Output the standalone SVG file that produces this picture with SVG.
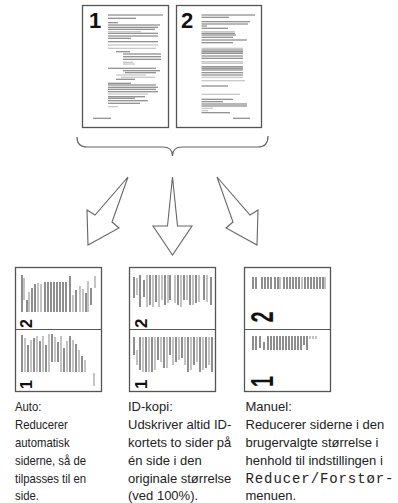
<svg xmlns="http://www.w3.org/2000/svg" width="398" height="503" viewBox="0 0 398 503">
<style>
.pg{fill:#fff;stroke:#555;stroke-width:1.3}
.dk{stroke:#707070;stroke-width:1.1;fill:none}
.lt{stroke:#b8b8b8;stroke-width:1.1;fill:none}
.bd{stroke:#6a6a6a;stroke-width:1.5;fill:none}
.bl{stroke:#b0b0b0;stroke-width:1.5;fill:none}
.num{font-family:"Liberation Sans",Arial,sans-serif;font-weight:bold;fill:#111}
.arr{fill:#fff;stroke:#666;stroke-width:1.1;stroke-linejoin:miter}
.txt{font-family:"Liberation Sans",Arial,sans-serif;font-size:13px;fill:#222}
.mono{font-family:"Liberation Mono","Courier New",monospace;font-size:14px;fill:#222}
</style>

<g id="page1">
<rect class="pg" x="82.5" y="5.5" width="86" height="122"/>
<text class="num" x="89" y="28" font-size="22">1</text>
<path class="dk" d="M108 15H163M108 18.3H136M108 22.7H118M108 25H160M108 27.3H158M108 29.3H155M108 33.3H158M108 36H158M108 38.3H131M108 41.7H158M116 51.7H130M123 54H161M123 56.7H161M123 59.3H161M108 68.3H156M123 70.7H160M125 72.7H156M116 79.3H135M108 83.3H131M108 85H156M108 87.3H158M108 89.3H156M108 91.7H158M108 96.7H145M108 98.3H135M108 100.7H148M108 103.3H140M93 118.3H111"/>
<path class="lt" d="M108 31.7H141M108 45H158M108 48.3H156M123 62.3H133M123 64H135M116 75H146M121 77.3H155M108 94H148M108 106.7H118"/>
</g>

<g id="page2">
<rect class="pg" x="176.5" y="5.5" width="85" height="122"/>
<text class="num" x="181" y="28" font-size="22">2</text>
<path class="dk" d="M201.5 15H255M201.5 17.3H229M201.5 21.7H250M201.5 24H248M201.5 26H207M201.5 28.3H228M201.5 33.3H235M201.5 35H236M201.5 37.3H233M201.5 40H247M201.5 42.7H233M201.5 50H243M201.5 51.7H243M201.5 53.3H243M201.5 56H243M201.5 58.3H243M201.5 66.7H243M201.5 68.3H243M201.5 70H243M201.5 72.7H243M201.5 75H243M201.5 86H228M201.5 99.3H233M201.5 101.7H223M201.5 104H247M201.5 106H247M201.5 112.7H230M233 118.3H250"/>
<path class="lt" d="M201.5 31.7H235M201.5 48.3H243M201.5 61.7H243M201.5 63.3H243M201.5 77.3H243M201.5 80.7H245M201.5 94.3H240M201.5 108.3H213M201.5 110.7H208"/>
</g>

<g id="connectors">
<path d="M77 137Q77 147 87 147L163 147Q172.5 147 172.5 156Q172.5 147 182 147L258 147Q268 147 268 136" fill="none" stroke="#666" stroke-width="1.2"/>
<polygon class="arr" points="128,177 112,222 119,228 88,245 87,210 95,215"/>
<polygon class="arr" points="172.5,177 167.5,226 153,226 172.5,255 192,226 177.5,226"/>
<polygon class="arr" points="217,177 233,222 226,228 257,245 258,210 250,215"/>
</g>

<g id="auto">
<rect class="pg" x="15.5" y="267.5" width="86" height="124"/>
<line x1="15.5" y1="329.5" x2="101.5" y2="329.5" stroke="#555" stroke-width="1.2"/>
<path class="bd" d="M22 275V312M27 300V312M32 288V312M35 284V312M45 282V312M48 282V312M51 282V312M54 282V312M57 282V312M60 282V312M63 282V312M66 282V312M70 276V312M76 290V312M86 293V312M91 288V305"/>
<path class="bl" d="M24 278V300M29 292V312M38 283V312M41 284V312M73 295V312M80 286V312M83 289V312M88 281V312M95 276V288"/>
<path class="bd" d="M22 335V372M28 345V372M34 338V372M40 341V372M46 345V372M52 334V362M58 342V362M64 348V372M70 336V372M76 344V372M82 356V372"/>
<path class="bl" d="M25 338V372M31 340V372M37 336V372M43 336V372M49 334V372M55 337V362M61 336V372M67 341V372M73 340V372M79 350V372M85 360V372M94 373V386"/>
<text class="num" font-size="16" transform="translate(31.5,328) rotate(-90)">2</text>
<text class="num" font-size="16" transform="translate(31.5,389) rotate(-90)">1</text>
<g transform="translate(15,0) scale(0.87,1)">
<text class="txt" x="0" y="411">Auto:</text>
<text class="txt" x="0" y="429">Reducerer</text>
<text class="txt" x="0" y="447">automatisk</text>
<text class="txt" x="0" y="465">siderne, så de</text>
<text class="txt" x="0" y="483">tilpasses til en</text>
<text class="txt" x="0" y="500">side.</text>
</g>
</g>

<g id="idkopi">
<rect class="pg" x="129.5" y="267.5" width="86" height="124"/>
<line x1="129.5" y1="329.5" x2="215.5" y2="329.5" stroke="#555" stroke-width="1.2"/>
<path class="bd" d="M134 277V298M140 275V307M144 280V297M150 275V305M156 275V302M165 275V305M170 275V300M178 275V305M184 275V300M190 275V305M196 275V303M204 275V300M211 277V305"/>
<path class="bl" d="M137 278V295M147 275V307M153 275V307M159 275V307M162 275V300M168 275V303M175 275V303M181 275V307M187 275V300M193 275V305M199 275V302M207 275V302"/>
<path class="bd" d="M134 337V355M140 337V370M146 337V372M152 337V372M158 337V360M164 337V368M170 337V355M176 337V362M182 337V358M188 337V372M194 337V365M200 337V372M206 337V368M212 337V372"/>
<path class="bl" d="M137 350V365M143 337V372M149 337V372M155 337V370M161 337V362M167 337V368M173 337V365M179 337V360M185 337V365M191 337V370M197 337V362M203 337V370M209 337V365"/>
<text class="num" font-size="17" transform="translate(146.5,328) rotate(-90)">2</text>
<text class="num" font-size="17" transform="translate(146.5,389) rotate(-90)">1</text>
<text class="txt" x="128" y="411">ID-kopi:</text>
<text class="txt" x="128" y="429">Udskriver altid ID-</text>
<text class="txt" x="128" y="447">kortets to sider på</text>
<text class="txt" x="128" y="465">én side i den</text>
<text class="txt" x="128" y="483">originale størrelse</text>
<text class="txt" x="128" y="500">(ved 100%).</text>
</g>

<g id="manuel">
<rect class="pg" x="244.5" y="267.5" width="86" height="124"/>
<line x1="244.5" y1="329.5" x2="330.5" y2="329.5" stroke="#555" stroke-width="1.2"/>
<path class="bd" d="M253 277V289M256 277V289M262 277V289M265 277V289M268 277V289M271 277V289M275 277V289M278 277V289M284 277V289M287 277V289M290 277V289M293 277V289M296 277V289M299 277V289M305 277V289M308 277V289M311 277V289M314 277V289M317 277V289M320 277V289M323 277V289"/>
<path class="bl" d="M280 277V289M302 277V289M325 277V289"/>
<path class="bd" d="M253 336V350M256 336V350M260 336V348M264 342V350M268 336V350M271 336V350M274 336V350M277 336V350M280 336V350M283 336V350M286 336V350M289 336V350M292 336V350M295 336V350M298 336V350M301 336V350M304 336V345M307 336V350"/>
<path class="bl" d="M310 336V339M313 336V339M316 336V339"/>
<text class="num" font-size="32" transform="translate(272.5,322.5) rotate(-90) scale(0.62,1)">2</text>
<text class="num" font-size="32" transform="translate(272.5,387) rotate(-90) scale(0.62,1)">1</text>
<text class="txt" x="245.5" y="411">Manuel:</text>
<text class="txt" x="245.5" y="429">Reducerer siderne i den</text>
<text class="txt" x="245.5" y="447">brugervalgte størrelse i</text>
<text class="txt" x="245.5" y="465">henhold til indstillingen i</text>
<text class="mono" x="245.5" y="483" textLength="148" lengthAdjust="spacing">Reducer/Forstør-</text>
<text class="txt" x="245.5" y="500">menuen.</text>
</g>
</svg>
